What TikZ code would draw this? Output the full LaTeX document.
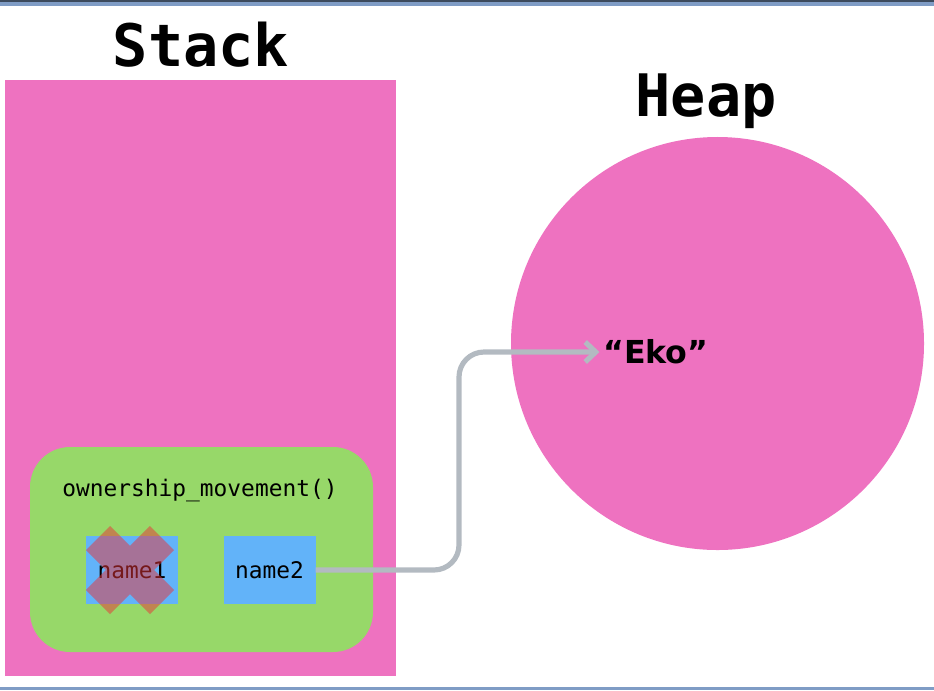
\documentclass[tikz,border=0pt]{standalone}
\usepackage{fontspec}
\setmainfont{DejaVu Sans}
\setmonofont{DejaVu Sans Mono}
\usetikzlibrary{arrows.meta}
\definecolor{stackpink}{HTML}{EE72C0}
\definecolor{framegreen}{HTML}{97D869}
\definecolor{varblue}{HTML}{62B3F9}
\definecolor{pointergray}{HTML}{B3BAC1}
\definecolor{crossred}{HTML}{EB3237}
\definecolor{barblue}{HTML}{7F9CC5}
\definecolor{bardark}{HTML}{3C4A5C}

\begin{document}
\begin{tikzpicture}[x=0.03cm, y=-0.03cm,
		title/.style={font=\fontsize{50}{50}\selectfont\ttfamily\bfseries, inner sep=0pt},
		region/.style={fill=stackpink, draw=none},
		framebox/.style={
			rounded corners=1.2cm, fill=framegreen, draw=none
		},
		varbox/.style={
			fill=varblue, draw=none, minimum width=2.76cm, minimum height=2.04cm,
			font=\fontsize{19.5}{19.5}\selectfont\ttfamily, inner sep=0pt
		},
		cross/.style={line width=29pt, crossred, draw opacity=0.5},
		pointer/.style={-{Straight Barb[length=9pt,width=17pt]}, line width=4.4pt,
			pointergray, rounded corners=0.75cm}
		]
		\useasboundingbox (0,0) rectangle (934,690);
		
		% window edges
		\fill[bardark] (0,0) rectangle (934,1.5);
		\fill[barblue] (0,1.5) rectangle (934,6);
		\fill[barblue] (0,687) rectangle (934,690);
		
		% stack side
		\fill[region] (5,80) rectangle (396,676);
		\node[title, anchor=base] (stacktitle) at (201,66) {Stack};
		
		\fill[framebox] (30,447) rectangle (373,652);
		\node[font=\fontsize{19.5}{19.5}\selectfont\ttfamily, anchor=base] (frametitle)
		at (200,496) {ownership\_movement()};
		
		\node[varbox] (name1) at (132,570) {name1};
		\node[varbox] (name2) at (269.5,570) {name2};
		
		% name1 is moved out
		\draw[cross] (98,538) -- (162,602) (162,538) -- (98,602);
		
		% heap side
		\node[title, anchor=base] (heaptitle) at (706,116) {Heap};
		\node[circle, fill=stackpink, minimum size=12.39cm, inner sep=0pt] (heap)
		at (717.5,343.5) {};
		\node[font=\fontsize{27}{27}\selectfont\bfseries, anchor=west, inner sep=0pt]
		(eko) at (603,352) {“Eko”};
		
		\coordinate (bend) at (459,352);
		\draw[pointer] (name2.east) -| (bend) -- ([xshift=-3pt]eko.west);
		
	\end{tikzpicture}
\end{document}
